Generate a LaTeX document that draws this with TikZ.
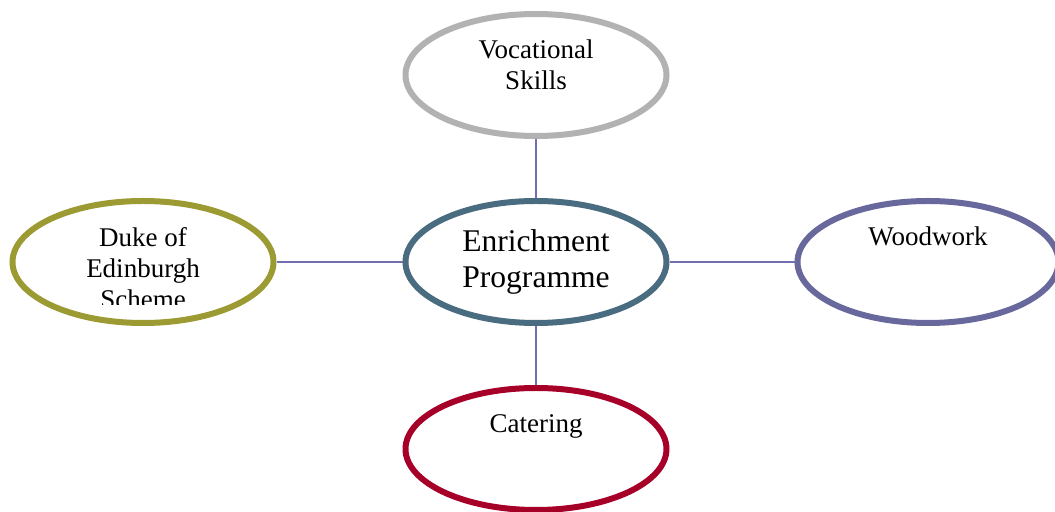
\documentclass[tikz,border=0pt]{standalone}
\usepackage{fontspec}
\setmainfont{Liberation Serif}
\usetikzlibrary{shapes.geometric}
\usetikzlibrary{positioning}
\definecolor{hubblue}{RGB}{74,108,128}
\definecolor{vocgray}{RGB}{178,178,178}
\definecolor{dukeolive}{RGB}{156,154,50}
\definecolor{woodpurple}{RGB}{104,104,156}
\definecolor{caterred}{RGB}{166,0,40}
\definecolor{linkline}{RGB}{112,112,176}
\tikzstyle{bubble} = [draw, ellipse, line width=3pt, fill=white,
    minimum width=130.5pt, minimum height=61pt, inner sep=0pt]
\tikzstyle{smalltext} = [align=center, anchor=north, inner sep=0pt,
    font=\fontsize{13.5}{15.5}\selectfont]
\tikzstyle{link} = [draw=linkline, line width=0.75pt]

\begin{document}
\begin{tikzpicture}[x=0.5pt, y=-0.5pt]
    \useasboundingbox (0,0) rectangle (1055,512);
    % We start by placing the hub and the four bubbles round it
    \node [bubble, draw=hubblue, align=center,
        font=\fontsize{15.8}{18}\selectfont] (hub) at (536,262) {Enrichment\\Programme};
    \node [bubble, draw=vocgray, above of=hub, node distance=93.5pt] (vocational) {};
    \node [bubble, draw=dukeolive, left of=hub, node distance=196.5pt] (duke) {};
    \node [bubble, draw=woodpurple, right of=hub, node distance=196pt] (woodwork) {};
    \node [bubble, draw=caterred, below of=hub, node distance=93.5pt] (catering) {};

    % Labels sit near the top of each bubble
    \node [smalltext] (vocationaltext) at ([yshift=17.6pt]vocational.center) {Vocational\\Skills};
    \begin{scope}
        \clip (0,0) rectangle (1055,305);
        \node [smalltext] (duketext) at ([yshift=17.6pt]duke.center) {Duke of\\Edinburgh\\Scheme};
    \end{scope}
    \node [smalltext] (woodworktext) at ([yshift=17.6pt]woodwork.center) {Woodwork};
    \node [smalltext] (cateringtext) at ([yshift=17.6pt]catering.center) {Catering};

    % Then the links between them
    \draw [link] (hub) -- (vocational);
    \draw [link] (hub) -- (duke);
    \draw [link] (hub) -- (woodwork);
    \draw [link] (hub) -- (catering);
\end{tikzpicture}
\end{document}
